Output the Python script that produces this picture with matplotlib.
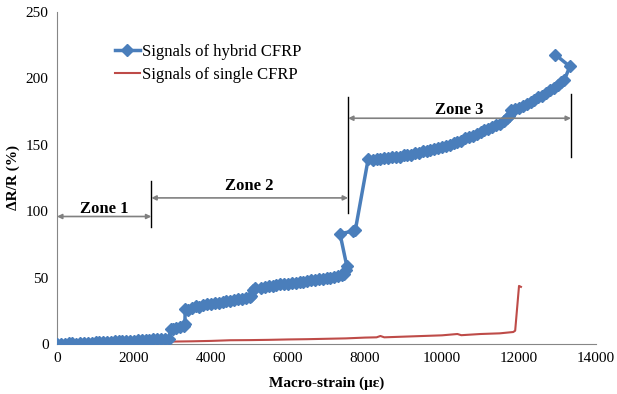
import matplotlib
matplotlib.use('Agg')
import matplotlib.pyplot as plt

# hybrid CFRP sensor response (strain in micro-strain, dR/R in %)
hybrid_strain = [
    0, 100, 200, 300, 400, 500, 600, 700, 800, 900,
    1000, 1100, 1200, 1300, 1400, 1500, 1600, 1700, 1800, 1900,
    2000, 2100, 2200, 2300, 2400, 2500, 2600, 2700, 2800, 2900,
    2950, 3000, 3100, 3200, 3300, 3320, 3330, 3400, 3500, 3600,
    3700, 3800, 3900, 4000, 4100, 4200, 4300, 4400, 4500, 4600,
    4700, 4800, 4900, 5000, 5050, 5080, 5150, 5300, 5400, 5500,
    5600, 5700, 5800, 5900, 6000, 6100, 6200, 6300, 6400, 6500,
    6600, 6700, 6800, 6900, 7000, 7100, 7200, 7300, 7400, 7450,
    7500, 7525, 7350, 7690, 7750, 8080, 8200, 8300, 8400, 8500,
    8600, 8700, 8800, 8900, 9000, 9100, 9200, 9300, 9400, 9500,
    9600, 9700, 9800, 9900, 10000, 10100, 10200, 10300, 10400, 10500,
    10600, 10700, 10800, 10900, 11000, 11100, 11200, 11300, 11400, 11500,
    11600, 11700, 11750, 11800, 11900, 12000, 12100, 12200, 12300, 12400,
    12500, 12600, 12700, 12800, 12900, 13000, 13100, 13180, 13320, 12940,
]
hybrid_dr = [
    0.0, 0.2, -0.3, 0.4, 0.5, 0.3, 0.8, 0.9, 1.0, 1.1,
    1.2, 1.3, 1.5, 1.6, 1.7, 1.9, 2.0, 2.2, 2.3, 2.5,
    2.6, 2.8, 3.0, 3.1, 3.3, 3.4, 3.5, 3.7, 3.8, 4.0,
    11.0, 11.5, 12.0, 12.5, 13.5, 15.0, 26.0, 25.5, 27.0, 28.5,
    28.0, 29.0, 30.0, 30.0, 31.0, 31.0, 31.5, 32.5, 32.5, 33.0,
    33.5, 34.0, 34.5, 35.0, 36.0, 41.0, 42.0, 42.5, 43.0, 43.5,
    44.0, 44.5, 44.8, 45.0, 45.5, 45.8, 46.0, 46.5, 47.0, 47.5,
    47.8, 48.3, 48.7, 49.0, 49.5, 50.0, 50.5, 51.0, 52.0, 53.0,
    56.0, 59.0, 83.0, 85.0, 86.0, 139.0, 138.5, 139.0, 139.5, 140.0,
    140.0, 140.5, 141.0, 141.0, 142.0, 142.0, 142.5, 143.5, 144.0, 145.0,
    145.5, 146.0, 147.0, 147.5, 148.0, 149.0, 150.0, 151.0, 152.0, 153.0,
    155.0, 156.0, 157.0, 158.5, 160.0, 161.0, 162.0, 163.5, 165.0, 166.0,
    168.0, 170.0, 172.0, 176.0, 177.0, 178.0, 179.0, 181.0, 182.5, 184.0,
    186.0, 187.0, 189.0, 191.0, 193.0, 195.0, 197.0, 199.0, 209.0, 218.0,
]

# single CFRP sensor response
single_strain = [
    0, 500, 1000, 1500, 2000, 2500, 3000, 3500, 4000, 4500,
    5000, 5500, 6000, 6500, 7000, 7500, 8000, 8300, 8400, 8500,
    9000, 9500, 10000, 10400, 10500, 11000, 11500, 11850, 11900, 12000, 12050,
]
single_dr = [
    0.0, 0.3, 0.6, 0.9, 1.2, 1.5, 1.8, 2.0, 2.3, 2.8,
    2.9, 3.1, 3.4, 3.6, 3.9, 4.2, 4.8, 5.0, 6.0, 5.0,
    5.5, 6.0, 6.5, 7.5, 6.6, 7.5, 8.0, 9.0, 10.0, 43.7, 43.0,
]

# zone boundaries and label positions
zone_edges = [0, 2450, 7560, 13350]
zone_arrow_y = [96, 110, 170]
zone_labels = ['Zone 1', 'Zone 2', 'Zone 3']
zone_label_y = [102, 119, 176]
zone_bar_spans = [(88, 123), (99, 186), (141, 188)]

plt.rcParams['font.family'] = ['Liberation Serif', 'DejaVu Serif']

fig = plt.figure(figsize=(6.17, 3.94), dpi=100)
ax = fig.add_axes([0.0924, 0.127, 0.8736, 0.8425])

blue = '#4A7EBB'
red = '#BE4B48'

ax.plot(hybrid_strain, hybrid_dr, color=blue, lw=2.5, marker='D', ms=6,
        label='Signals of hybrid CFRP', zorder=3)
ax.plot(single_strain, single_dr, color=red, lw=1.5,
        label='Signals of single CFRP', zorder=2)

# zone arrows with their labels
for i in range(3):
    x0, x1 = zone_edges[i], zone_edges[i + 1]
    ax.annotate('', xy=(x0, zone_arrow_y[i]), xytext=(x1, zone_arrow_y[i]),
                arrowprops=dict(arrowstyle='<|-|>', color='#808080', lw=1.2,
                                mutation_scale=7, shrinkA=0, shrinkB=0))
    ax.text((x0 + x1) / 2, zone_label_y[i], zone_labels[i], ha='center',
            va='center', fontsize=12, fontweight='bold')
for x, (y0, y1) in zip(zone_edges[1:], zone_bar_spans):
    ax.plot([x, x], [y0, y1], color='black', lw=1)

ax.set_xlim(0, 14000)
ax.set_ylim(0, 250)
ax.set_xticks(range(0, 14001, 2000))
ax.set_yticks(range(0, 251, 50))
ax.tick_params(length=0, labelsize=11, pad=6)
for side in ['top', 'right']:
    ax.spines[side].set_visible(False)
for side in ['left', 'bottom']:
    ax.spines[side].set_color('#868686')

ax.set_xlabel('Macro-strain (\u03bc\u03b5)', fontsize=11, fontweight='bold', labelpad=8)
ax.set_ylabel('\u0394R/R (%)', fontsize=11, fontweight='bold', labelpad=4)

ax.legend(loc='upper left', bbox_to_anchor=(0.095, 0.925), frameon=False,
          fontsize=12, handlelength=1.5, handletextpad=0.15, labelspacing=0.45,
          borderaxespad=0)

fig.savefig('out.png', dpi=100)
